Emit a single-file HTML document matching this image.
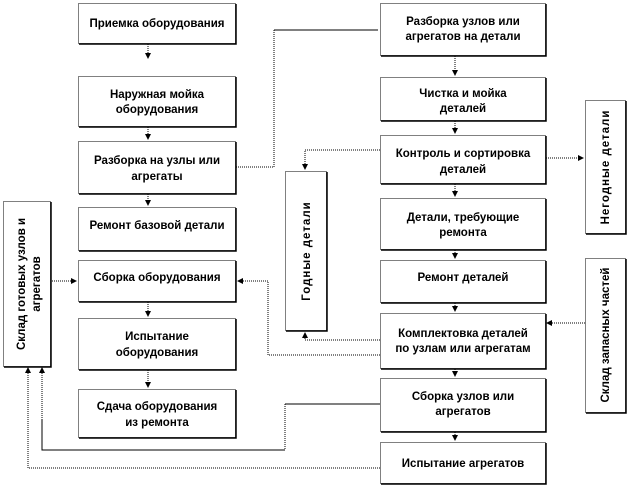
<!DOCTYPE html>
<html><head><meta charset="utf-8"><style>
body{margin:0;background:#fff;}
svg text{font-family:"Liberation Sans Narrow","Liberation Sans",sans-serif;font-weight:bold;font-size:11.5px;fill:#000;}
</style></head><body>
<svg width="630" height="487" viewBox="0 0 630 487" xmlns="http://www.w3.org/2000/svg">
<defs>
<marker id="a" markerWidth="6" markerHeight="6" refX="5" refY="3" orient="auto" markerUnits="userSpaceOnUse"><path d="M0,0 L6,3 L0,6 z" fill="#000"/></marker>
</defs>
<g fill="#fff" stroke="#000" stroke-width="1">
<!-- left column -->
<rect x="78.5" y="3.5" width="157" height="40" stroke-dasharray="1 1"/>
<rect x="78.5" y="76.5" width="157" height="50" stroke-dasharray="1 1"/>
<rect x="78.5" y="141.5" width="157" height="52" stroke-dasharray="1 1"/>
<rect x="78.5" y="207.5" width="157" height="43" stroke-dasharray="1 1"/>
<rect x="78.5" y="260.5" width="157" height="41" stroke-dasharray="1 1"/>
<rect x="78.5" y="318.5" width="157" height="51" stroke-dasharray="1 1"/>
<rect x="78.5" y="389.5" width="157" height="48" stroke-dasharray="1 1"/>
<!-- right column -->
<rect x="380.5" y="3.5" width="165" height="52" stroke-dasharray="1 1"/>
<rect x="380.5" y="77.5" width="165" height="43" stroke-dasharray="1 1"/>
<rect x="380.5" y="135.5" width="165" height="48" stroke-dasharray="1 1"/>
<rect x="380.5" y="198.5" width="165" height="51" stroke-dasharray="1 1"/>
<rect x="380.5" y="260.5" width="165" height="42" stroke-dasharray="1 1"/>
<rect x="380.5" y="313.5" width="165" height="55" stroke-dasharray="1 1"/>
<rect x="380.5" y="378.5" width="165" height="53" stroke-dasharray="1 1"/>
<rect x="380.5" y="442.5" width="165" height="41" stroke-dasharray="1 1"/>
<!-- side boxes -->
<rect x="285.5" y="171.5" width="41" height="159" stroke-dasharray="1 1"/>
<rect x="585.5" y="100.5" width="40" height="133" stroke-dasharray="1 1"/>
<rect x="585.5" y="258.5" width="40" height="154" stroke-dasharray="1 1"/>
<rect x="3.5" y="201.5" width="47" height="165" stroke-dasharray="1 1"/>
</g>
<!-- shadows -->
<g stroke="#000" stroke-width="1.5" fill="none">
<path d="M236,4V44H79"/><path d="M236,77V127H79"/><path d="M236,142V194H79"/><path d="M236,208V251H79"/>
<path d="M236,261V302H79"/><path d="M236,319V370H79"/><path d="M236,390V438H79"/>
<path d="M546,4V56H381"/><path d="M546,78V121H381"/><path d="M546,136V184H381"/><path d="M546,199V250H381"/>
<path d="M546,261V303H381"/><path d="M546,314V369H381"/><path d="M546,379V432H381"/><path d="M546,443V484H381"/>
<path d="M327,172V331H286"/><path d="M626,101V234H586"/><path d="M626,259V413H586"/><path d="M51,202V367H4"/>
</g>
<!-- vertical arrows -->
<g stroke="#000" stroke-width="1" stroke-dasharray="1 1" fill="none" marker-end="url(#a)">
<path d="M148,44V58"/><path d="M148,127V139"/><path d="M148,194V205"/><path d="M148,302V316"/><path d="M148,370V387"/>
<path d="M455,56V75"/><path d="M455,121V133"/><path d="M455,184V196"/><path d="M455,250V258"/><path d="M455,303V311"/><path d="M455,369V376"/><path d="M455,432V440"/>
<path d="M236,167H274V30H378" marker-end="none"/>
<path d="M380,150H305V169"/>
<path d="M546,158H583"/>
<path d="M585,323H547"/>
<path d="M380,340H305V333" />
<path d="M380,355H268V281H238"/>
<path d="M50,281H76"/>
<path d="M285,404V450" marker-end="none"/>
<path d="M28,468V368"/>
<path d="M380,468H28" marker-end="none"/>
<path d="M42,420V368"/>
</g>
<g stroke="#000" stroke-width="1" fill="none">
<path d="M274,30H378"/>
<path d="M380,404H285"/>
<path d="M285,450H42V420"/>
</g>
<!-- texts -->
<g text-anchor="middle">
<text x="157" y="27">Приемка  оборудования</text>
<text x="157" y="98">Наружная  мойка</text><text x="157" y="113">оборудования</text>
<text x="157" y="164">Разборка  на узлы или</text><text x="157" y="180">агрегаты</text>
<text x="157" y="229">Ремонт базовой детали</text>
<text x="157" y="281">Сборка  оборудования</text>
<text x="157" y="340">Испытание</text><text x="157" y="356">оборудования</text>
<text x="157" y="410">Сдача оборудования</text><text x="157" y="426">из ремонта</text>
<text x="463" y="25">Разборка  узлов или</text><text x="463" y="40">агрегатов  на детали</text>
<text x="463" y="97">Чистка и мойка</text><text x="463" y="112">деталей</text>
<text x="463" y="157">Контроль  и сортировка</text><text x="463" y="173">деталей</text>
<text x="463" y="221">Детали,  требующие</text><text x="463" y="236">ремонта</text>
<text x="463" y="281">Ремонт деталей</text>
<text x="463" y="337">Комплектовка  деталей</text><text x="463" y="352">по узлам или  агрегатам</text>
<text x="463" y="400">Сборка  узлов или</text><text x="463" y="415">агрегатов</text>
<text x="463" y="467">Испытание  агрегатов</text>
</g>
<g text-anchor="middle" style="font-family:'Liberation Sans',sans-serif;font-weight:normal;font-size:11px">
<text transform="translate(310,251) rotate(-90)" style="letter-spacing:1px">Годные детали</text>
<text transform="translate(609,167) rotate(-90)" style="letter-spacing:1px">Негодные детали</text>
<text transform="translate(609,335) rotate(-90)">Склад запасных частей</text>
<text transform="translate(25,284) rotate(-90)">Склад готовых узлов и</text>
<text transform="translate(40,284) rotate(-90)">агрегатов</text>
</g>
</svg>
</body></html>
